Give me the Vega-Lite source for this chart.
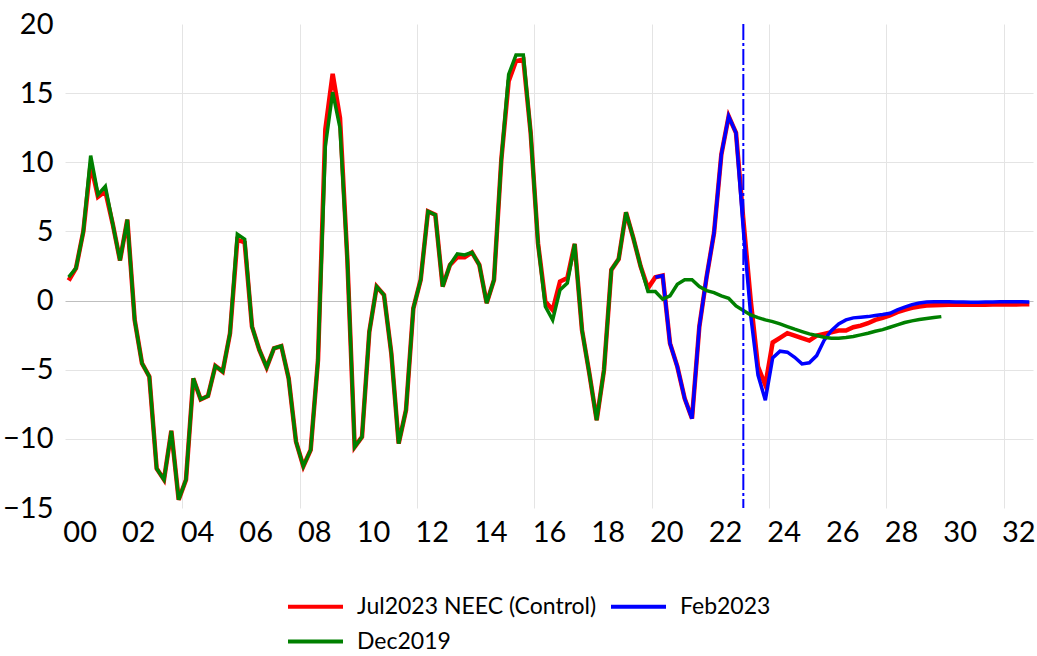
{
  "$schema": "https://vega.github.io/schema/vega-lite/v6.json",
  "width": 968,
  "height": 484,
  "autosize": {"type": "none"},
  "padding": {"left": 65, "top": 24, "right": 4, "bottom": 148},
  "background": "white",
  "config": {
    "font": "Lato",
    "view": {"stroke": null},
    "axis": {"labelFont": "Lato", "labelColor": "#000000"},
    "legend": {"labelFont": "Lato"}
  },
  "datasets": {
    "jul": [
      {"i":0,"v":1.45},{"i":1,"v":2.34},{"i":2,"v":5.0},{"i":3,"v":9.9},{"i":4,"v":7.5},{"i":5,"v":7.9},{"i":6,"v":5.56},{"i":7,"v":2.9},{"i":8,"v":5.85},{"i":9,"v":-1.4},
      {"i":10,"v":-4.54},{"i":11,"v":-5.5},{"i":12,"v":-12.15},{"i":13,"v":-12.95},{"i":14,"v":-9.42},{"i":15,"v":-14.4},{"i":16,"v":-12.95},{"i":17,"v":-5.63},{"i":18,"v":-7.15},{"i":19,"v":-6.9},
      {"i":20,"v":-4.73},{"i":21,"v":-5.14},{"i":22,"v":-2.37},{"i":23,"v":4.4},{"i":24,"v":4.2},{"i":25,"v":-1.88},{"i":26,"v":-3.57},{"i":27,"v":-4.83},{"i":28,"v":-3.45},{"i":29,"v":-3.29},
      {"i":30,"v":-5.63},{"i":31,"v":-10.2},{"i":32,"v":-11.98},{"i":33,"v":-10.8},{"i":34,"v":-4.3},{"i":35,"v":12.37},{"i":36,"v":16.4},{"i":37,"v":13.2},{"i":38,"v":3.0},{"i":39,"v":-10.58},
      {"i":40,"v":-9.86},{"i":41,"v":-2.25},{"i":42,"v":1.01},{"i":43,"v":0.41},{"i":44,"v":-3.82},{"i":45,"v":-10.34},{"i":46,"v":-7.92},{"i":47,"v":-0.56},{"i":48,"v":1.5},{"i":49,"v":6.45},
      {"i":50,"v":6.2},{"i":51,"v":1.01},{"i":52,"v":2.58},{"i":53,"v":3.14},{"i":54,"v":3.14},{"i":55,"v":3.48},{"i":56,"v":2.58},{"i":57,"v":-0.19},{"i":58,"v":1.5},{"i":59,"v":10.19},
      {"i":60,"v":15.87},{"i":61,"v":17.32},{"i":62,"v":17.44},{"i":63,"v":12.13},{"i":64,"v":4.15},{"i":65,"v":-0.07},{"i":66,"v":-0.68},{"i":67,"v":1.38},{"i":68,"v":1.62},{"i":69,"v":4.1},
      {"i":70,"v":-2.13},{"i":71,"v":-5.27},{"i":72,"v":-8.65},{"i":73,"v":-5.02},{"i":74,"v":2.22},{"i":75,"v":3.0},{"i":76,"v":6.38},{"i":77,"v":4.52},{"i":78,"v":2.46},{"i":79,"v":0.9},
      {"i":80,"v":1.69},{"i":81,"v":1.81},{"i":82,"v":-3.09},{"i":83,"v":-4.78},{"i":84,"v":-7.08},{"i":85,"v":-8.53},{"i":86,"v":-1.88},{"i":87,"v":1.74},{"i":88,"v":4.88},{"i":89,"v":10.56},
      {"i":90,"v":13.33},{"i":91,"v":12.13},{"i":92,"v":5.85},{"i":93,"v":0.05},{"i":94,"v":-4.78},{"i":95,"v":-6.11},{"i":96,"v":-3.03},{"i":97,"v":-2.7},{"i":98,"v":-2.36},{"i":99,"v":-2.53},
      {"i":100,"v":-2.72},{"i":101,"v":-2.89},{"i":102,"v":-2.53},{"i":103,"v":-2.41},{"i":104,"v":-2.29},{"i":105,"v":-2.17},{"i":106,"v":-2.17},{"i":107,"v":-1.93},{"i":108,"v":-1.81},{"i":109,"v":-1.64},
      {"i":110,"v":-1.4},{"i":111,"v":-1.25},{"i":112,"v":-1.08},{"i":113,"v":-0.84},{"i":114,"v":-0.67},{"i":115,"v":-0.53},{"i":116,"v":-0.43},{"i":117,"v":-0.36},{"i":118,"v":-0.34},{"i":119,"v":-0.32},
      {"i":120,"v":-0.31},{"i":121,"v":-0.31},{"i":122,"v":-0.31},{"i":123,"v":-0.31},{"i":124,"v":-0.3},{"i":125,"v":-0.3},{"i":126,"v":-0.29},{"i":127,"v":-0.29},{"i":128,"v":-0.28},{"i":129,"v":-0.28},
      {"i":130,"v":-0.27},{"i":131,"v":-0.26}
    ],
    "feb": [
      {"i":80,"v":1.69},{"i":81,"v":1.81},{"i":82,"v":-3.09},{"i":83,"v":-4.78},{"i":84,"v":-7.08},{"i":85,"v":-8.53},{"i":86,"v":-1.88},{"i":87,"v":1.74},{"i":88,"v":4.88},{"i":89,"v":10.56},
      {"i":90,"v":13.33},{"i":91,"v":12.13},{"i":92,"v":5.12},{"i":93,"v":-1.04},{"i":94,"v":-5.39},{"i":95,"v":-7.2},{"i":96,"v":-4.15},{"i":97,"v":-3.66},{"i":98,"v":-3.73},{"i":99,"v":-4.1},
      {"i":100,"v":-4.58},{"i":101,"v":-4.5},{"i":102,"v":-3.98},{"i":103,"v":-2.89},{"i":104,"v":-2.17},{"i":105,"v":-1.69},{"i":106,"v":-1.4},{"i":107,"v":-1.25},{"i":108,"v":-1.2},{"i":109,"v":-1.16},
      {"i":110,"v":-1.08},{"i":111,"v":-1.01},{"i":112,"v":-0.92},{"i":113,"v":-0.67},{"i":114,"v":-0.48},{"i":115,"v":-0.29},{"i":116,"v":-0.17},{"i":117,"v":-0.1},{"i":118,"v":-0.08},{"i":119,"v":-0.08},
      {"i":120,"v":-0.09},{"i":121,"v":-0.1},{"i":122,"v":-0.11},{"i":123,"v":-0.12},{"i":124,"v":-0.12},{"i":125,"v":-0.11},{"i":126,"v":-0.1},{"i":127,"v":-0.09},{"i":128,"v":-0.08},{"i":129,"v":-0.08},
      {"i":130,"v":-0.09},{"i":131,"v":-0.1}
    ],
    "dec": [
      {"i":0,"v":1.69},{"i":1,"v":2.34},{"i":2,"v":5.0},{"i":3,"v":10.48},{"i":4,"v":7.66},{"i":5,"v":8.26},{"i":6,"v":5.56},{"i":7,"v":2.9},{"i":8,"v":5.85},{"i":9,"v":-1.4},
      {"i":10,"v":-4.54},{"i":11,"v":-5.5},{"i":12,"v":-12.15},{"i":13,"v":-12.95},{"i":14,"v":-9.42},{"i":15,"v":-14.4},{"i":16,"v":-12.95},{"i":17,"v":-5.63},{"i":18,"v":-7.15},{"i":19,"v":-6.9},
      {"i":20,"v":-4.73},{"i":21,"v":-5.14},{"i":22,"v":-2.37},{"i":23,"v":4.8},{"i":24,"v":4.44},{"i":25,"v":-1.88},{"i":26,"v":-3.57},{"i":27,"v":-4.83},{"i":28,"v":-3.45},{"i":29,"v":-3.29},
      {"i":30,"v":-5.63},{"i":31,"v":-10.2},{"i":32,"v":-11.98},{"i":33,"v":-10.8},{"i":34,"v":-4.3},{"i":35,"v":11.16},{"i":36,"v":15.07},{"i":37,"v":12.49},{"i":38,"v":3.0},{"i":39,"v":-10.58},
      {"i":40,"v":-9.86},{"i":41,"v":-2.25},{"i":42,"v":1.01},{"i":43,"v":0.41},{"i":44,"v":-3.82},{"i":45,"v":-10.34},{"i":46,"v":-7.92},{"i":47,"v":-0.56},{"i":48,"v":1.5},{"i":49,"v":6.45},
      {"i":50,"v":6.2},{"i":51,"v":1.01},{"i":52,"v":2.58},{"i":53,"v":3.38},{"i":54,"v":3.3},{"i":55,"v":3.48},{"i":56,"v":2.58},{"i":57,"v":-0.19},{"i":58,"v":1.5},{"i":59,"v":10.19},
      {"i":60,"v":16.35},{"i":61,"v":17.75},{"i":62,"v":17.75},{"i":63,"v":12.13},{"i":64,"v":4.15},{"i":65,"v":-0.43},{"i":66,"v":-1.4},{"i":67,"v":0.77},{"i":68,"v":1.26},{"i":69,"v":4.1},
      {"i":70,"v":-2.13},{"i":71,"v":-5.27},{"i":72,"v":-8.65},{"i":73,"v":-5.02},{"i":74,"v":2.22},{"i":75,"v":3.0},{"i":76,"v":6.38},{"i":77,"v":4.52},{"i":78,"v":2.46},{"i":79,"v":0.65},
      {"i":80,"v":0.65},{"i":81,"v":0.1},{"i":82,"v":0.34},{"i":83,"v":1.18},{"i":84,"v":1.5},{"i":85,"v":1.5},{"i":86,"v":1.01},{"i":87,"v":0.72},{"i":88,"v":0.58},{"i":89,"v":0.34},
      {"i":90,"v":0.17},{"i":91,"v":-0.39},{"i":92,"v":-0.72},{"i":93,"v":-1.04},{"i":94,"v":-1.23},{"i":95,"v":-1.4},{"i":96,"v":-1.52},{"i":97,"v":-1.69},{"i":98,"v":-1.88},{"i":99,"v":-2.07},
      {"i":100,"v":-2.24},{"i":101,"v":-2.41},{"i":102,"v":-2.53},{"i":103,"v":-2.65},{"i":104,"v":-2.72},{"i":105,"v":-2.72},{"i":106,"v":-2.67},{"i":107,"v":-2.6},{"i":108,"v":-2.48},{"i":109,"v":-2.36},
      {"i":110,"v":-2.22},{"i":111,"v":-2.1},{"i":112,"v":-1.93},{"i":113,"v":-1.76},{"i":114,"v":-1.59},{"i":115,"v":-1.47},{"i":116,"v":-1.37},{"i":117,"v":-1.3},{"i":118,"v":-1.23},{"i":119,"v":-1.16}
    ],
    "marker": [{"t": 92}]
  },
  "resolve": {"axis": {"x": "independent"}},
  "layer": [
    {
      "encoding": {
        "x": {"field": "i", "type": "quantitative",
          "scale": {"domain": [-0.5, 131.5], "nice": false, "zero": false},
          "axis": {"title": null, "values": [1.5, 9.5, 17.5, 25.5, 33.5, 41.5, 49.5, 57.5, 65.5, 73.5, 81.5, 89.5, 97.5, 105.5, 113.5, 121.5, 129.5],
            "labelExpr": "format((datum.value - 1.5) / 4, '02d')", "grid": false, "domain": false, "ticks": false,
            "labelFontSize": 29, "labelPadding": 10, "labelFlush": false, "labelOverlap": false}},
        "y": {"field": "v", "type": "quantitative",
          "scale": {"domain": [-15, 20], "nice": false, "zero": false},
          "axis": {"title": null, "values": [-15, -10, -5, 0, 5, 10, 15, 20], "domain": false, "ticks": false,
            "labelFontSize": 29, "labelPadding": 12, "labelFlush": false, "labelOverlap": false,
            "grid": true, "gridWidth": 1,
            "gridColor": {"condition": {"test": "datum.value === 0", "value": "#bfbfbf"}, "value": "#e4e4e4"},
            "gridOpacity": {"condition": {"test": "datum.value === 20 || datum.value === -15", "value": 0}, "value": 1}}}
      },
      "layer": [
        {
          "data": {"name": "jul"},
          "mark": {"type": "line", "strokeWidth": 4.5, "strokeJoin": "miter", "strokeCap": "butt"},
          "encoding": {
            "color": {"datum": "Jul2023 NEEC (Control)", "type": "nominal",
              "scale": {"domain": ["Jul2023 NEEC (Control)", "Feb2023", "Dec2019"], "range": ["#ff0000", "#0000ff", "#008000"]},
              "legend": {"title": null, "orient": "none", "legendX": 239, "legendY": 571, "columns": 2, "direction": "horizontal",
                "symbolType": "M-5,0H5", "symbolSize": 121, "symbolStrokeWidth": 4, "labelFontSize": 23, "labelLimit": 400,
                "labelOffset": 30, "columnPadding": 6, "rowPadding": 11, "labelColor": "#000000"}}
          }
        },
        {
          "data": {"name": "feb"},
          "mark": {"type": "line", "strokeWidth": 3.5, "strokeJoin": "miter", "strokeCap": "butt"},
          "encoding": {"color": {"datum": "Feb2023", "type": "nominal"}}
        },
        {
          "data": {"name": "dec"},
          "mark": {"type": "line", "strokeWidth": 3.5, "strokeJoin": "miter", "strokeCap": "butt"},
          "encoding": {"color": {"datum": "Dec2019", "type": "nominal"}}
        }
      ]
    },
    {
      "data": {"name": "marker"},
      "mark": {"type": "rule", "color": "#0000ff", "strokeWidth": 2, "strokeDash": [16, 3, 3, 3]},
      "encoding": {
        "x": {"field": "t", "type": "quantitative",
          "scale": {"domain": [-0.5, 131.5], "nice": false, "zero": false},
          "axis": {"orient": "top", "title": null, "values": [15.5, 31.5, 47.5, 63.5, 79.5, 95.5, 111.5, 127.5],
            "labels": false, "ticks": false, "domain": false, "grid": true, "gridColor": "#e4e4e4", "gridWidth": 1}}
      }
    }
  ]
}
